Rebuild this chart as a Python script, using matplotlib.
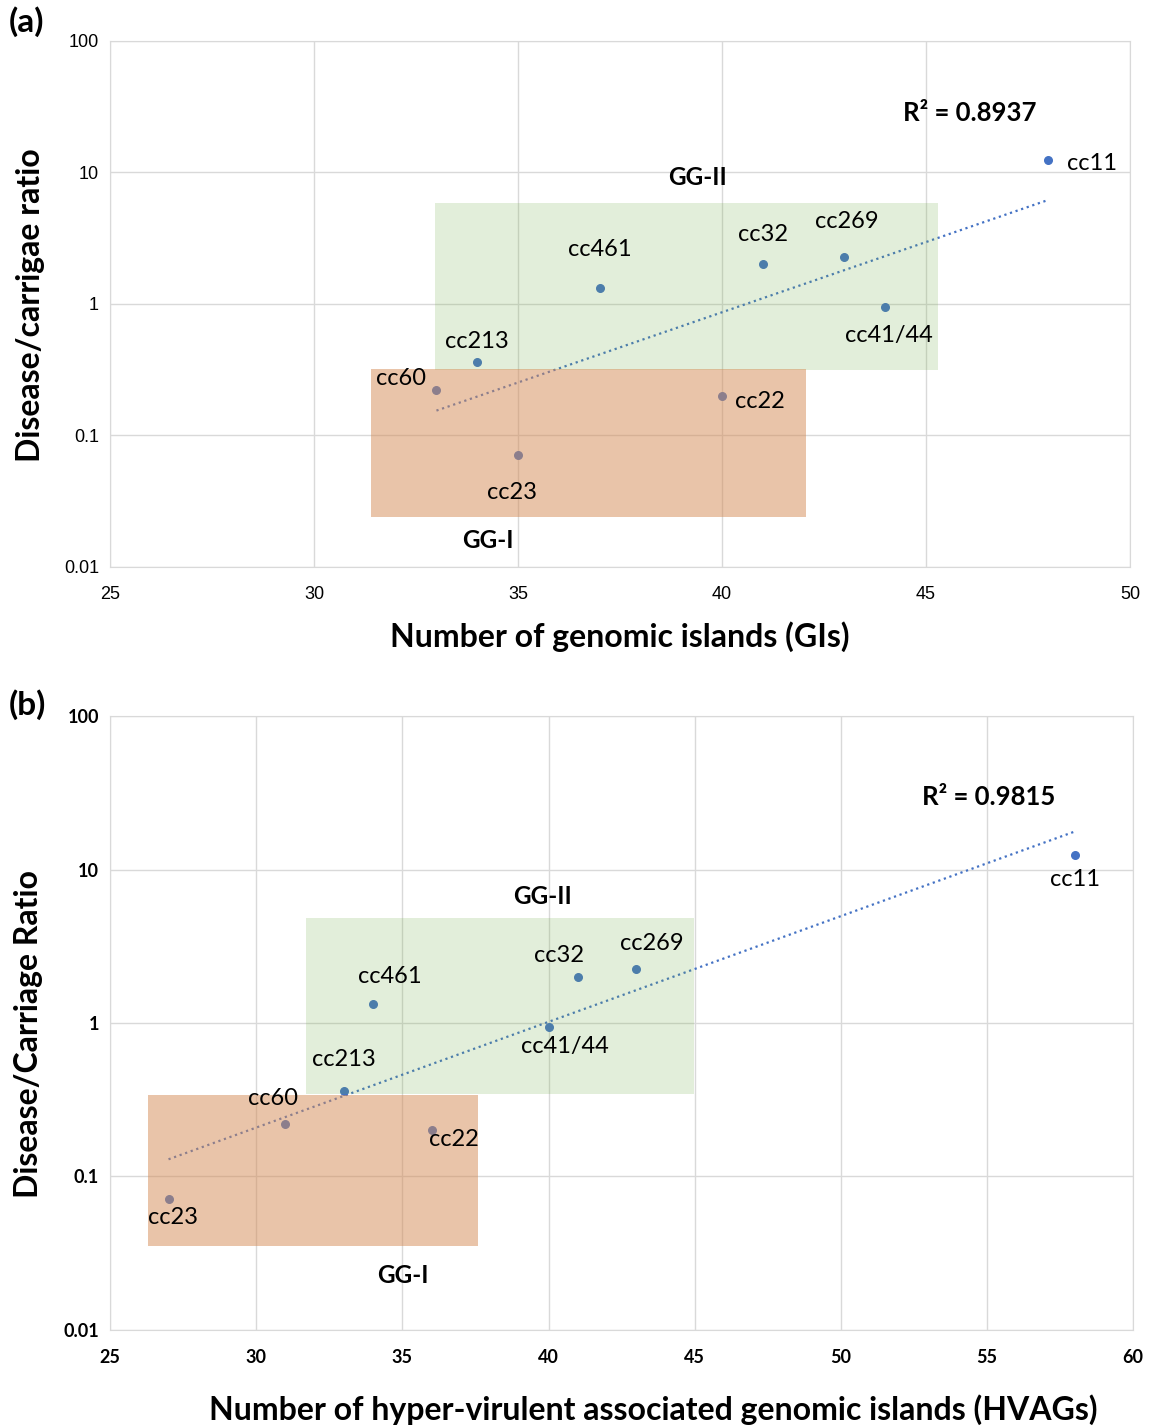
import matplotlib
matplotlib.use("Agg")
from matplotlib import pyplot as plt
from matplotlib.patches import Rectangle
import numpy as np

plt.rcParams['font.family'] = ['Lato', 'DejaVu Sans']

# clonal complexes and their disease/carriage ratio (same in both panels)
labels = ['cc11', 'cc269', 'cc32', 'cc461', 'cc41/44', 'cc213', 'cc60', 'cc22', 'cc23']
ratio = [12.4, 2.26, 2.0, 1.33, 0.94, 0.36, 0.22, 0.20, 0.071]

# panel (a): number of genomic islands
gis = [48, 43, 41, 37, 44, 34, 33, 40, 35]
# panel (b): number of hyper-virulent associated genomic islands
hvags = [58, 43, 41, 34, 40, 33, 31, 36, 27]

r2_a = 'R² = 0.8937'
r2_b = 'R² = 0.9815'

# label positions (data coords) for each point
lab_pos_a = [(48.45, 11.8, 'left'), (43.06, 4.27, 'center'), (41.0, 3.35, 'center'),
             (37.0, 2.58, 'center'), (44.1, 0.58, 'center'), (34.0, 0.52, 'center'),
             (32.13, 0.27, 'center'), (40.93, 0.18, 'center'), (34.85, 0.0366, 'center')]
lab_pos_b = [(58.01, 8.67, 'center'), (43.54, 3.32, 'center'), (40.36, 2.77, 'center'),
             (34.58, 2.0, 'center'), (40.57, 0.708, 'center'), (33.0, 0.582, 'center'),
             (30.58, 0.32, 'center'), (36.77, 0.175, 'center'), (27.16, 0.0537, 'center')]

BLUE = '#4472C4'
GRID = '#d9d9d9'


def draw_panel(ax, x, lab_pos, xlim, xstep, green, orange, gg2, gg1, r2, r2pos, bold_ticks):
    ax.set_yscale('log')
    ax.set_xlim(xlim)
    ax.set_ylim(0.01, 100)
    ax.set_xticks(np.arange(xlim[0], xlim[1] + 1, xstep))
    ax.set_yticks([0.01, 0.1, 1, 10, 100])
    ax.set_yticklabels(['0.01', '0.1', '1', '10', '100'])
    ax.minorticks_off()
    ax.grid(True, color=GRID, lw=1)
    ax.set_axisbelow(True)
    for s in ax.spines.values():
        s.set_color(GRID)
    ax.tick_params(length=0, pad=14, labelsize=13)
    ax.tick_params(axis='y', pad=8)
    w = 'bold' if bold_ticks else 'normal'
    for t in ax.get_xticklabels() + ax.get_yticklabels():
        t.set_fontweight(w)
        if not bold_ticks:
            t.set_family(['Liberation Sans', 'DejaVu Sans'])

    ax.scatter(x, ratio, s=30, color=BLUE, zorder=3)

    # exponential trendline
    k, b = np.polyfit(x, np.log10(ratio), 1)
    xt = np.array([min(x), max(x)])
    ax.plot(xt, 10 ** (k * xt + b), ls=':', lw=1.6, color=BLUE, zorder=2)

    ax.add_patch(Rectangle((green[0], green[2]), green[1] - green[0], green[3] - green[2],
                           facecolor='#70AD47', alpha=0.2, lw=0, zorder=4))
    ax.add_patch(Rectangle((orange[0], orange[2]), orange[1] - orange[0], orange[3] - orange[2],
                           facecolor='#D58B55', alpha=0.5, lw=0, zorder=4))

    for name, (lx, ly, ha) in zip(labels, lab_pos):
        ax.text(lx, ly, name, ha=ha, va='center', fontsize=17, zorder=5)
    ax.text(gg2[0], gg2[1], 'GG-II', ha='center', va='center', fontsize=17.5,
            fontweight='bold', zorder=5)
    ax.text(gg1[0], gg1[1], 'GG-I', ha='center', va='center', fontsize=17.5,
            fontweight='bold', zorder=5)
    ax.text(r2pos[0], r2pos[1], r2, ha='center', va='center', fontsize=18.5,
            fontweight='bold', zorder=5)


fig = plt.figure(figsize=(11.5, 14.27), dpi=100)
ax1 = fig.add_axes([0.0957, 0.6027, 0.8869, 0.3686])
ax2 = fig.add_axes([0.0957, 0.0680, 0.8896, 0.4302])

draw_panel(ax1, gis, lab_pos_a, (25, 50), 5,
           (32.97, 45.29, 0.315, 5.86), (31.40, 42.06, 0.024, 0.32),
           (39.41, 9.08), (34.26, 0.016), r2_a, (46.08, 28.3), False)
draw_panel(ax2, hvags, lab_pos_b, (25, 60), 5,
           (31.7, 44.98, 0.344, 4.83), (26.3, 37.59, 0.0352, 0.34),
           (39.78, 6.71), (35.02, 0.0225), r2_b, (55.07, 29.6), True)

ax1.set_xlabel('Number of genomic islands (GIs)', fontsize=23, fontweight='bold')
ax1.xaxis.set_label_coords(0.5, -0.133)
ax1.xaxis.label.set_va('center')
ax1.set_ylabel('Disease/carrigae ratio', fontsize=23, fontweight='bold')
ax1.yaxis.set_label_coords(-0.078, 0.498)
ax1.yaxis.label.set_va('center')

ax2.set_xlabel('Number of hyper-virulent associated genomic islands (HVAGs)',
               fontsize=23, fontweight='bold')
ax2.xaxis.set_label_coords(0.531, -0.130)
ax2.xaxis.label.set_va('center')
ax2.set_ylabel('Disease/Carriage Ratio', fontsize=23, fontweight='bold')
ax2.yaxis.set_label_coords(-0.080, 0.482)
ax2.yaxis.label.set_va('center')

fig.text(0.008, 1 - 22 / 1427, '(a)', fontsize=24, fontweight='bold', va='center')
fig.text(0.008, 1 - 705 / 1427, '(b)', fontsize=24, fontweight='bold', va='center')

fig.savefig('out.png', dpi=100)
